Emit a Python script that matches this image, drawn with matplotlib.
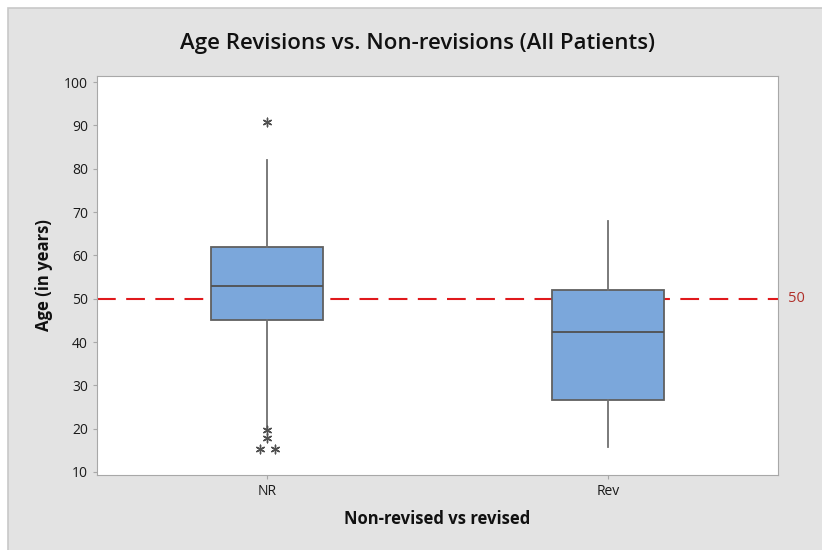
import numpy as np
import matplotlib.pyplot as plt
from matplotlib.patches import Rectangle

plt.rcParams['font.family'] = ['Open Sans', 'DejaVu Sans']

groups = ['NR', 'Rev']
q1 = [45.0, 26.5]
median = [53.0, 42.2]
q3 = [62.0, 52.0]
whisker_low = [20.0, 15.7]
whisker_high = [82.0, 68.0]
# outliers: (group index, value)
outlier_group = [0, 0, 0, 0, 0]
outlier_value = [90.8, 19.6, 17.8, 15.4, 15.4]
outlier_jitter = [0.0, 0.0, 0.0, -0.022, 0.022]
ref_value = 50

fig = plt.figure(figsize=(8.22, 5.5), dpi=100)
fig.patch.set_facecolor('white')
# gray panel with white strip at top and left
fig.patches.append(Rectangle((8 / 822, -0.05), 1.1, 1.05 - 8 / 550, transform=fig.transFigure,
                             facecolor='#e3e3e3', edgecolor='#c8c8c8', lw=1.2, zorder=-10))

ax = fig.add_axes([97 / 822, 1 - 475 / 550, 681 / 822, 399 / 550])
ax.set_facecolor('white')

stats = []
for i, g in enumerate(groups):
    stats.append(dict(label=g, q1=q1[i], med=median[i], q3=q3[i],
                      whislo=whisker_low[i], whishi=whisker_high[i], fliers=[]))

positions = np.arange(1, len(groups) + 1)
ax.bxp(stats, positions=positions, widths=0.33, patch_artist=True, showcaps=False,
       boxprops=dict(facecolor='#7ba7db', edgecolor='#606060', lw=1.3),
       medianprops=dict(color='#505050', lw=1.3),
       whiskerprops=dict(color='#707070', lw=1.3))

ox = positions[np.array(outlier_group)] + np.array(outlier_jitter)
ax.scatter(ox, outlier_value, marker=(6, 2, 0), s=38, color='#505050', lw=1.0, zorder=4)

ax.axhline(ref_value, color='#e0191c', lw=1.5, dashes=(9, 5), zorder=1)
ax.text(1.015, ref_value, str(ref_value), transform=ax.get_yaxis_transform(),
        color='#b0302a', fontsize=10.5, va='center', ha='left')

ax.set_xlim(0.5, 2.5)
ax.set_ylim(9.3, 101.4)
ax.set_yticks(np.arange(10, 101, 10))
ax.set_xticks(positions)
ax.set_xticklabels(groups)

for s in ax.spines.values():
    s.set_color('#a8a8a8')
ax.tick_params(colors='#a8a8a8', labelcolor='#1a1a1a', labelsize=10, length=3)

fig.text(417 / 822, 1 - 44 / 550, 'Age Revisions vs. Non-revisions (All Patients)', fontsize=16,
         fontweight='semibold', color='#111111', ha='center', va='center')
ax.set_ylabel('Age (in years)', fontsize=12, fontweight='bold', color='#111111', labelpad=8)
ax.set_xlabel('Non-revised vs revised', fontsize=12, fontweight='bold', color='#111111', labelpad=8)

fig.savefig('out.png', dpi=100)
